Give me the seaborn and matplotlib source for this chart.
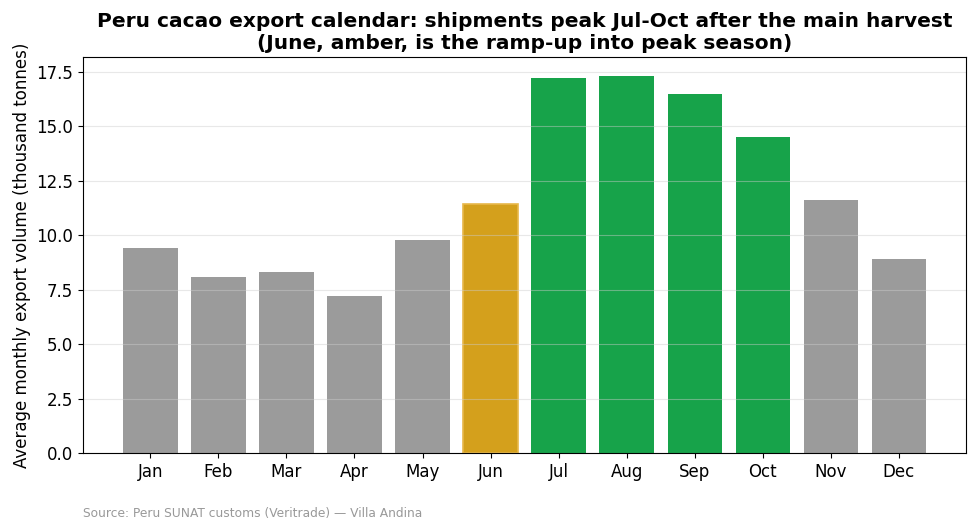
import matplotlib
matplotlib.use('Agg')
import matplotlib.pyplot as plt
import seaborn as sns
import pandas as pd

months = ['Jan', 'Feb', 'Mar', 'Apr', 'May', 'Jun',
          'Jul', 'Aug', 'Sep', 'Oct', 'Nov', 'Dec']
volume = [9.4, 8.1, 8.3, 7.2, 9.8, 11.45, 17.2, 17.3, 16.5, 14.5, 11.6, 8.9]
season = ['off', 'off', 'off', 'off', 'off', 'ramp',
          'peak', 'peak', 'peak', 'peak', 'off', 'off']

season_colors = {'off': '#9b9b9b', 'ramp': '#d4a01c', 'peak': '#17a34a'}

df = pd.DataFrame({'month': months, 'volume': volume, 'season': season})

fig, ax = plt.subplots(figsize=(9.76, 5.3), dpi=100)
sns.barplot(data=df, x='month', y='volume', hue='season', palette=season_colors,
            dodge=False, width=0.8, saturation=1, legend=False, ax=ax)

# outline on the ramp-up month (find it by its x position)
ramp_idx = season.index('ramp')
for patch in ax.patches:
    cx = patch.get_x() + patch.get_width() / 2
    if abs(cx - ramp_idx) < 0.01 and patch.get_height() > 0:
        patch.set_edgecolor('#e8b84a')
        patch.set_linewidth(1.2)

ax.set_xlim(-0.99, 11.99)
ax.set_ylim(0, 18.17)
ax.grid(axis='y', color='#cccccc', alpha=0.45, linewidth=0.8)
ax.set_xlabel('')
ax.set_ylabel('Average monthly export volume (thousand tonnes)', fontsize=12)
ax.tick_params(labelsize=12)
ax.set_title('Peru cacao export calendar: shipments peak Jul-Oct after the main harvest\n'
             '(June, amber, is the ramp-up into peak season)',
             fontsize=14.5, fontweight='bold')

fig.text(0.085, 0.025, 'Source: Peru SUNAT customs (Veritrade) \u2014 Villa Andina',
         fontsize=8.8, color='#999999')

plt.subplots_adjust(left=0.085, right=0.99, top=0.892, bottom=0.145)
plt.savefig('out.png', dpi=100)
plt.close()
